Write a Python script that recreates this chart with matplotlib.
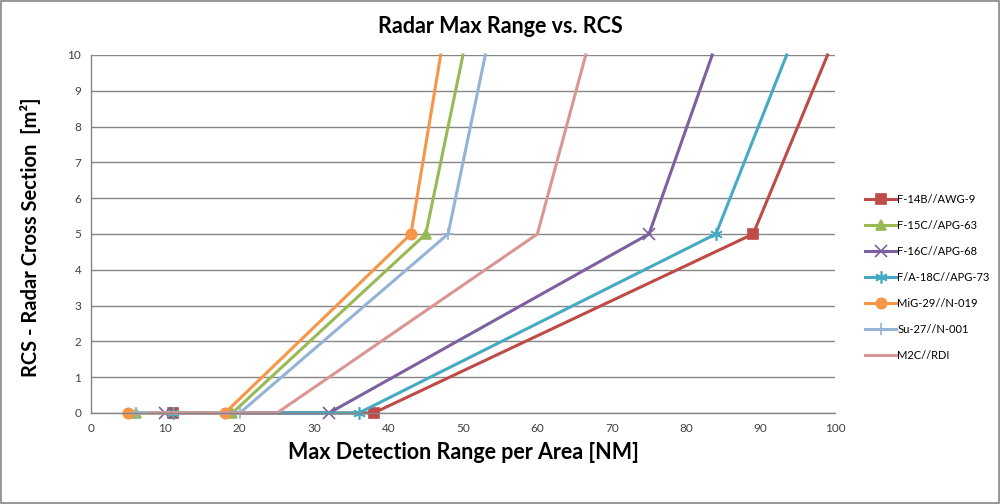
import matplotlib
matplotlib.use("Agg")
import matplotlib.pyplot as plt
from matplotlib.patches import Rectangle

plt.rcParams['font.family'] = ['Lato', 'DejaVu Sans']

series_names = ["F-14B//AWG-9", "F-15C//APG-63", "F-16C//APG-68", "F/A-18C//APG-73",
                "MiG-29//N-019", "Su-27//N-001", "M2C//RDI"]
rcs = [0, 0, 5, 10]
range_f14b = [11, 38, 89, 99]
range_f15c = [6, 19, 45, 50]
range_f16c = [10, 32, 75, 83.5]
range_fa18c = [11, 36, 84, 93.5]
range_mig29 = [5, 18, 43, 47]
range_su27 = [6, 20, 48, 53]
range_m2c = [8, 25, 60, 66.5]
ranges = [range_f14b, range_f15c, range_f16c, range_fa18c, range_mig29, range_su27, range_m2c]

colors = ["#BE4B48", "#98B954", "#7D60A0", "#46AAC5", "#F79646", "#95B3D7", "#D99694"]
markers = ["s", "^", "x", (6, 2, 0), "o", "+", None]
msizes = [7, 7, 8, 9, 7.5, 9, 0]

fig = plt.figure(figsize=(10, 5.04), dpi=100)
ax = fig.add_axes([0.091, 0.1806, 0.744, 0.7103])

for name, xs, c, m, ms in zip(series_names, ranges, colors, markers, msizes):
    kw = {}
    if m is not None:
        kw = dict(marker=m, markersize=ms, markevery=[0, 1, 2],
                  markerfacecolor=c, markeredgecolor=c, markeredgewidth=1.2)
    ax.plot(xs, rcs, color=c, linewidth=2.2, label=name, **kw)

ax.set_xlim(0, 100)
ax.set_ylim(0, 10)
ax.set_xticks(range(0, 101, 10))
ax.set_yticks(range(0, 11, 1))
ax.yaxis.grid(True, color="#868686", linewidth=1.0)
ax.set_axisbelow(True)
for s in ["top", "right"]:
    ax.spines[s].set_visible(False)
for s in ["left", "bottom"]:
    ax.spines[s].set_color("#868686")
    ax.spines[s].set_linewidth(1.0)
ax.tick_params(axis="both", length=0, labelsize=8.5, labelcolor="#404040", pad=7)
for ln in ax.lines:
    ln.set_clip_on(False)

fig.text(0.5, 0.948, "Radar Max Range vs. RCS", ha="center", va="center",
         fontsize=15.5, fontweight="bold")
ax.set_xlabel("Max Detection Range per Area [NM]", fontsize=15.5, fontweight="bold", labelpad=6)
fig.text(0.031, 0.53, "RCS - Radar Cross Section  [m²]", rotation=90, ha="center", va="center",
         fontsize=14.5, fontweight="bold")

leg = fig.legend(loc="center left", bbox_to_anchor=(0.855, 0.45), frameon=False,
                 fontsize=8, handlelength=2.8, handletextpad=0.1, labelspacing=1.35)

fig.patches.append(Rectangle((0.001, 0.001), 0.998, 0.997, transform=fig.transFigure,
                             fill=False, edgecolor="#868686", linewidth=1.2))

fig.savefig("out.png", dpi=100)
